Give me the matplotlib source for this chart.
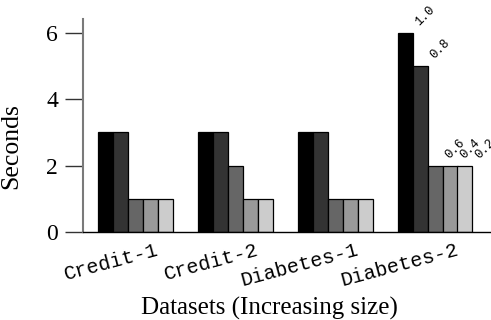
import numpy as np
import matplotlib
matplotlib.use("Agg")
import matplotlib.pyplot as plt

# Runtime (seconds) per dataset for five parameter settings
datasets = ["Credit-1", "Credit-2", "Diabetes-1", "Diabetes-2"]
settings = ["1.0", "0.8", "0.6", "0.4", "0.2"]
seconds = [
    [3, 3, 1, 1, 1],   # Credit-1
    [3, 3, 2, 1, 1],   # Credit-2
    [3, 3, 1, 1, 1],   # Diabetes-1
    [6, 5, 2, 2, 2],   # Diabetes-2
]
yticks = [0, 2, 4, 6]

colors = ["#000000", "#333333", "#666666", "#999999", "#cccccc"]
bar_w = 0.15

fig = plt.figure(figsize=(4.91, 3.2), dpi=100)
ax = fig.add_axes([83 / 491, 1 - 232 / 320, 408 / 491, 213 / 320])

vals = np.array(seconds)
centers = np.arange(len(datasets))
for j, (lab, col) in enumerate(zip(settings, colors)):
    xs = centers + (j - 2) * bar_w
    ax.bar(xs, vals[:, j], width=bar_w, color=col, edgecolor="black",
           linewidth=0.9, zorder=2)

# Setting labels over the largest dataset's bars
last = len(datasets) - 1
for j, lab in enumerate(settings):
    x = centers[last] + (j - 2) * bar_w + bar_w / 2
    y = vals[last, j]
    ax.annotate(lab, xy=(x, y), xytext=(0, 3.5), textcoords="offset points",
                rotation=45, ha="left", va="bottom",
                family="Liberation Mono", fontsize=9, annotation_clip=False)

ax.set_xlim(-0.52, 3.56)
ax.set_ylim(0, 6.42)
ax.set_yticks(yticks)
ax.set_yticklabels([str(t) for t in yticks], family="Liberation Serif", fontsize=17)

ax.set_xticks(centers + 0.21)
ax.set_xticklabels(datasets, family="Liberation Mono", fontsize=14.5,
                   rotation=15, ha="right", rotation_mode="anchor", va="top")
ax.tick_params(axis="x", length=0, pad=6)
ax.tick_params(axis="y", length=13, width=1.0, color="#333333", pad=5)

for s in ["top", "right"]:
    ax.spines[s].set_visible(False)
ax.spines["left"].set_color("#7a7a7a")
ax.spines["left"].set_linewidth(1.5)
ax.spines["bottom"].set_color("black")
ax.spines["bottom"].set_linewidth(1.0)

ax.set_ylabel("Seconds", family="Liberation Serif", fontsize=18.5)
ax.yaxis.set_label_coords(-0.15, 0.404)
ax.set_xlabel("Datasets (Increasing size)", family="Liberation Serif", fontsize=18)
ax.xaxis.set_label_coords(0.456, -0.305)

fig.savefig("out.png", dpi=100)
